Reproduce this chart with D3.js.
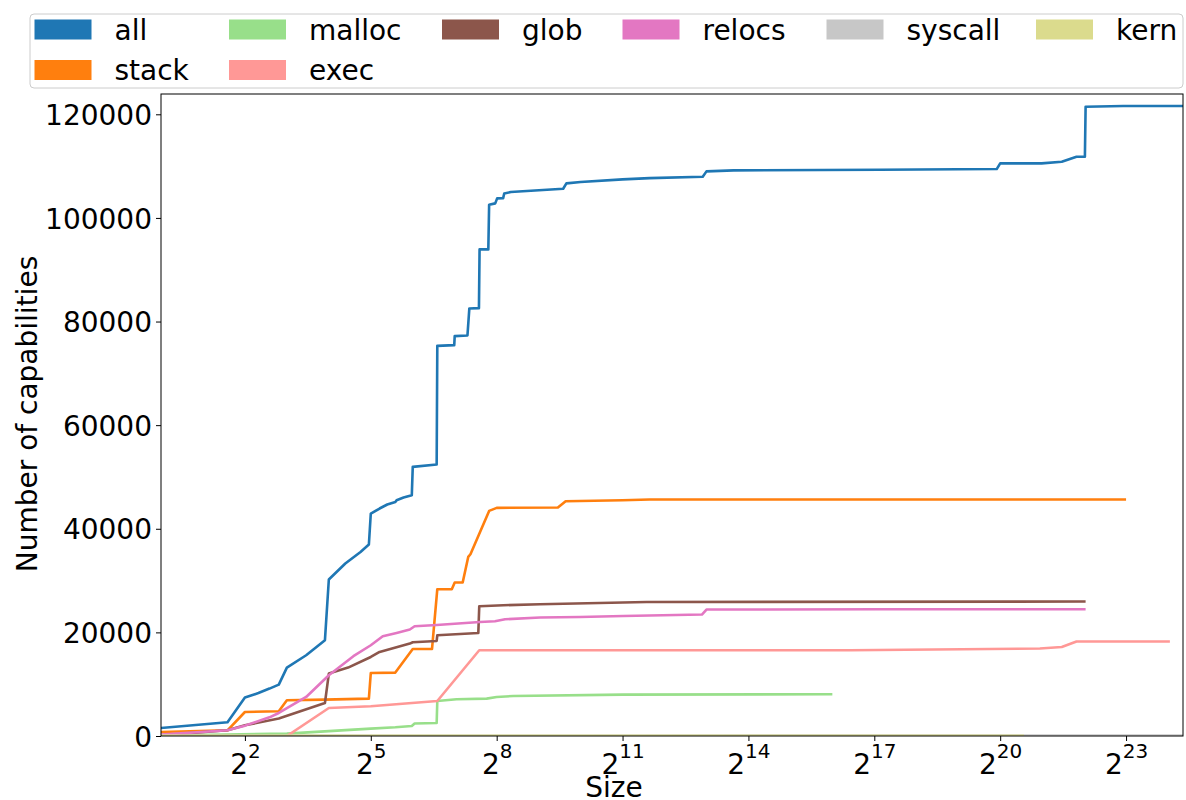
<!DOCTYPE html>
<html>
<head>
<meta charset="utf-8">
<script src="https://cdn.jsdelivr.net/npm/d3@7/dist/d3.min.js"></script>
<style>
  html, body { margin: 0; padding: 0; background: #fff; }
  svg { display: block; font-family: "DejaVu Sans", sans-serif; }
</style>
</head>
<body>
<svg id="chart" width="1186" height="800"></svg>
<script>
// ---------------- data (size in bytes, cumulative number of capabilities) ----------------
const seriesNames = ["all", "stack", "malloc", "exec", "glob", "relocs", "syscall", "kern"];
const seriesColors = ["#1f77b4", "#ff7f0e", "#98df8a", "#ff9896", "#8c564b", "#e377c2", "#c7c7c7", "#dbdb8d"];

const allSizes  = [1, 3, 4, 5, 6, 7, 8, 11, 15, 16, 21, 27, 31, 32, 37, 42, 48, 49, 55, 63, 64, 95, 96, 127, 128, 158, 163, 191, 193, 223, 226, 250, 258, 285, 290, 323, 768, 810, 1024, 2048, 3200, 7700, 8192, 12800, 144000, 990000, 1048576, 2080000, 2900000, 3700000, 4250000, 4300000, 8000000, 21500000];
const allValues = [1545, 2646, 7415, 8300, 9153, 9925, 13208, 15583, 18480, 30200, 33290, 35530, 36960, 42945, 43910, 44685, 45185, 45514, 46035, 46480, 51945, 52407, 75310, 75445, 77183, 77318, 82530, 82590, 93925, 93925, 102535, 102805, 103770, 103830, 104700, 104990, 105625, 106670, 106920, 107440, 107690, 107945, 108985, 109180, 109295, 109430, 110530, 110530, 110840, 111805, 111805, 121460, 121600, 121600];

const stackSizes  = [1, 3, 4, 7, 8, 15, 31, 32, 48, 64, 88, 96, 122, 128, 146, 160, 166, 226, 256, 704, 800, 2048, 3200, 8388608];
const stackValues = [772, 1100, 4634, 4770, 6894, 7030, 7222, 12165, 12240, 16800, 16800, 28330, 28330, 29620, 29620, 34565, 35090, 43450, 44030, 44100, 45320, 45514, 45650, 45650];

const mallocSizes  = [1, 8, 32, 48, 63, 66, 95, 96, 132, 217, 256, 337, 2048, 65536];
const mallocValues = [100, 460, 1430, 1680, 1930, 2400, 2510, 6760, 7090, 7220, 7530, 7720, 7990, 8050];

const execSizes  = [8, 16, 32, 96, 192, 87700, 2020000, 2900000, 3700000, 17300000];
const execValues = [0, 5400, 5740, 6760, 16550, 16550, 16880, 17190, 18230, 18230];

const globSizes  = [1, 3, 4, 7, 15, 16, 22, 32, 37, 61, 64, 95, 96, 189, 192, 286, 524, 3050, 4300000];
const globValues = [135, 1100, 2070, 3360, 6370, 12050, 13210, 15255, 16220, 17840, 18090, 18345, 19445, 19890, 25045, 25240, 25430, 25875, 25950];

const relocsSizes  = [1, 3, 4, 6, 7, 11, 16, 24, 32, 39, 49, 61, 66, 95, 194, 249, 294, 524, 1014, 2073, 7600, 8192, 144000, 4300000];
const relocsValues = [270, 1100, 2000, 3600, 4440, 7530, 11720, 15400, 17515, 19250, 19890, 20550, 21180, 21430, 22010, 22150, 22530, 22860, 22980, 23170, 23440, 24410, 24470, 24470];

const syscallSizes  = [1, 1024, 21500000];
const syscallValues = [30, 60, 80];

const kernSizes  = [1, 1550000];
const kernValues = [20, 40];

const xTickExponents = [2, 5, 8, 11, 14, 17, 20, 23];
const yTickValues = [0, 20000, 40000, 60000, 80000, 100000, 120000];

const xLabel = "Size";
const yLabel = "Number of capabilities";

// ---------------- build ----------------
const sizesList  = [allSizes, stackSizes, mallocSizes, execSizes, globSizes, relocsSizes, syscallSizes, kernSizes];
const valuesList = [allValues, stackValues, mallocValues, execValues, globValues, relocsValues, syscallValues, kernValues];
const series = seriesNames.map((name, i) => ({
  name, color: seriesColors[i],
  points: sizesList[i].map((s, j) => ({ x: s, y: valuesList[i][j] }))
}));

const svg = d3.select("#chart");
const margin = { left: 161, right: 1183, top: 94, bottom: 736 };
const FS = 28;
const FONT = "DejaVu Sans, sans-serif";

const x = d3.scaleLog().base(2).domain([1, Math.pow(2, 24.357)]).range([margin.left, margin.right]);
const y = d3.scaleLinear().domain([0, 123920]).range([margin.bottom, margin.top]);

svg.append("defs").append("clipPath").attr("id", "plotclip")
  .append("rect").attr("x", margin.left).attr("y", margin.top)
  .attr("width", margin.right - margin.left).attr("height", margin.bottom - margin.top);

// lines
const line = d3.line().x(d => x(d.x)).y(d => y(d.y));
const g = svg.append("g").attr("clip-path", "url(#plotclip)");
series.forEach(s => {
  g.append("path").datum(s.points)
    .attr("fill", "none").attr("stroke", s.color)
    .attr("stroke-width", 2.6).attr("stroke-linejoin", "round")
    .attr("d", line);
});

// axes
const xAxis = d3.axisBottom(x).tickValues(xTickExponents.map(e => Math.pow(2, e)))
  .tickSize(5).tickPadding(5).tickFormat("");
const xg = svg.append("g").attr("transform", `translate(0,${margin.bottom})`).call(xAxis)
  .attr("font-family", FONT);
xg.select(".domain").remove();
xg.selectAll(".tick line").attr("stroke", "#000").attr("stroke-width", 1);
xg.selectAll(".tick").each(function(d, i) {
  const t = d3.select(this).append("text")
    .attr("fill", "#000").attr("text-anchor", "middle")
    .attr("y", 38).style("font-size", FS + "px").style("font-family", FONT);
  t.append("tspan").text("2");
  t.append("tspan").attr("dy", -16).style("font-size", "20px").text(String(xTickExponents[i]));
});

const yAxis = d3.axisLeft(y).tickValues(yTickValues).tickSize(5).tickPadding(4).tickFormat(d3.format("d"));
const yg = svg.append("g").attr("transform", `translate(${margin.left},0)`).call(yAxis)
  .attr("font-family", FONT);
yg.select(".domain").remove();
yg.selectAll(".tick line").attr("stroke", "#000").attr("stroke-width", 1);
yg.selectAll(".tick text").attr("fill", "#000").style("font-size", FS + "px")
  .style("font-family", FONT).attr("dy", "0.36em");

// frame
svg.append("rect").attr("x", margin.left).attr("y", margin.top)
  .attr("width", margin.right - margin.left).attr("height", margin.bottom - margin.top)
  .attr("fill", "none").attr("stroke", "#000").attr("stroke-width", 1);

// axis labels
svg.append("text").attr("x", 614).attr("y", 797).attr("text-anchor", "middle")
  .style("font-size", FS + "px").attr("fill", "#000").text(xLabel);
svg.append("text").attr("transform", "translate(37,414) rotate(-90)").attr("text-anchor", "middle")
  .style("font-size", FS + "px").attr("fill", "#000").text(yLabel);

// legend
const legend = svg.append("g");
legend.append("rect").attr("x", 30).attr("y", 14).attr("width", 1153).attr("height", 74)
  .attr("rx", 4).attr("fill", "#fff").attr("fill-opacity", 0.8)
  .attr("stroke", "#cccccc").attr("stroke-width", 1);
const colX = [34.5, 229, 442, 622.5, 826.5, 1036];
const rowY = [19.5, 60];
// column-major order, 6 columns, 2 rows (col sizes: 2,2,1,1,1,1)
const layout = [[0,0],[0,1],[1,0],[1,1],[2,0],[3,0],[4,0],[5,0]];
series.forEach((s, i) => {
  const [c, r] = layout[i];
  legend.append("rect").attr("x", colX[c]).attr("y", rowY[r]).attr("width", 57).attr("height", 20)
    .attr("fill", s.color);
  legend.append("text").attr("x", colX[c] + 80).attr("y", rowY[r] + 20)
    .style("font-size", FS + "px").attr("fill", "#000").text(s.name);
});
</script>
</body>
</html>
